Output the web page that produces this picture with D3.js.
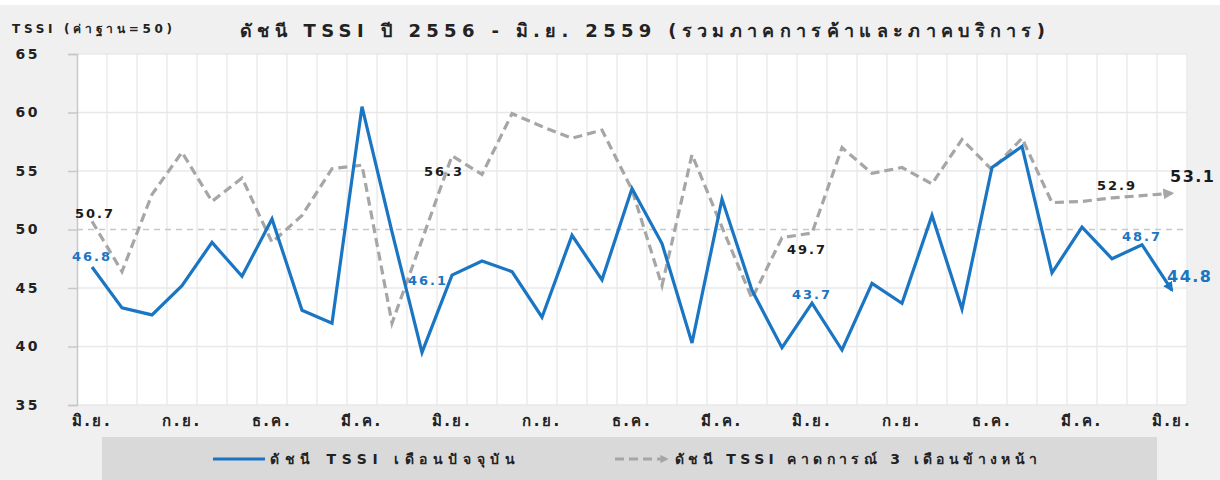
<!DOCTYPE html>
<html>
<head>
<meta charset="utf-8">
<script src="https://cdn.jsdelivr.net/npm/d3@7"></script>
<style>
  body { margin: 0; background: #fff; }
  text { font-family: 'DejaVu Sans', 'Noto Sans', sans-serif; }
</style>
</head>
<body>
<div id="chart"></div>
<script>
const months = [
  'มิ.ย. 2556', 'ก.ค. 2556', 'ส.ค. 2556', 'ก.ย. 2556', 'ต.ค. 2556', 'พ.ย. 2556', 'ธ.ค. 2556',
  'ม.ค. 2557', 'ก.พ. 2557', 'มี.ค. 2557', 'เม.ย. 2557', 'พ.ค. 2557', 'มิ.ย. 2557', 'ก.ค. 2557',
  'ส.ค. 2557', 'ก.ย. 2557', 'ต.ค. 2557', 'พ.ย. 2557', 'ธ.ค. 2557',
  'ม.ค. 2558', 'ก.พ. 2558', 'มี.ค. 2558', 'เม.ย. 2558', 'พ.ค. 2558', 'มิ.ย. 2558', 'ก.ค. 2558',
  'ส.ค. 2558', 'ก.ย. 2558', 'ต.ค. 2558', 'พ.ย. 2558', 'ธ.ค. 2558',
  'ม.ค. 2559', 'ก.พ. 2559', 'มี.ค. 2559', 'เม.ย. 2559', 'พ.ค. 2559', 'มิ.ย. 2559'
]

// ดัชนี TSSI เดือนปัจจุบัน
const current = [46.8, 43.3, 42.7, 45.2, 48.9, 46.0, 50.9, 43.1, 42.0, 60.5, 49.8, 39.5,
  46.1, 47.3, 46.4, 42.5, 49.5, 45.7, 53.5, 48.8, 40.3, 52.6, 44.8, 39.9,
  43.7, 39.7, 45.4, 43.7, 51.2, 43.2, 55.3, 57.1, 46.3, 50.2, 47.5, 48.7, 44.8]

// ดัชนี TSSI คาดการณ์ 3 เดือนข้างหน้า
const forecast = [50.7, 46.4, 53.0, 56.6, 52.4, 54.4, 48.9, 51.2, 55.2, 55.5, 42.0, 49.1,
  56.3, 54.7, 59.9, 58.8, 57.8, 58.5, 53.4, 45.2, 56.4, 50.2, 44.1, 49.3,
  49.7, 57.0, 54.8, 55.3, 53.9, 57.7, 55.1, 57.8, 52.3, 52.4, 52.7, 52.9, 53.1]

const yTicks = [35, 40, 45, 50, 55, 60, 65]
const labelIdx = [0, 12, 24, 35, 36]

const title = 'ดัชนี TSSI ปี 2556 - มิ.ย. 2559 (รวมภาคการค้าและภาคบริการ)'
const yTitle = 'TSSI (ค่าฐาน=50)'
const seriesNames = ['ดัชนี TSSI เดือนปัจจุบัน', 'ดัชนี TSSI คาดการณ์ 3 เดือนข้างหน้า']

const width = 1220
const height = 480
const blue = '#1a75c2'
const grey = '#a6a6a6'

const svg = d3
  .select('#chart')
  .append('svg')
  .attr('width', width)
  .attr('height', height)

svg
  .append('rect')
  .attr('x', 0)
  .attr('y', 5)
  .attr('width', width)
  .attr('height', height - 5)
  .attr('fill', '#f0f0f0')

const x = d3.scaleBand().domain(months).range([77, 1187])
const y = d3.scaleLinear().domain([35, 65]).range([405, 54])

// plot area
svg
  .append('rect')
  .attr('x', x.range()[0])
  .attr('y', y(65))
  .attr('width', x.range()[1] - x.range()[0])
  .attr('height', y(35) - y(65))
  .attr('fill', '#fff')

// vertical grid, one per month
svg
  .selectAll('.vgrid')
  .data(months)
  .enter()
  .append('line')
  .attr('class', 'vgrid')
  .attr('x1', d => x(d) + x.bandwidth())
  .attr('x2', d => x(d) + x.bandwidth())
  .attr('y1', y(65))
  .attr('y2', y(35))
  .attr('stroke', '#ebebeb')
  .attr('stroke-width', 1.5)

// horizontal grid
svg
  .selectAll('.hgrid')
  .data(yTicks)
  .enter()
  .append('line')
  .attr('class', 'hgrid')
  .attr('x1', x.range()[0])
  .attr('x2', x.range()[1])
  .attr('y1', d => y(d))
  .attr('y2', d => y(d))
  .attr('stroke', d => (d === 50 ? '#c8c8c8' : '#e8e8e8'))
  .attr('stroke-width', 1.5)
  .attr('stroke-dasharray', d => (d === 50 ? '6,5' : null))

// y axis
const yAxis = svg
  .append('g')
  .attr('transform', `translate(${x.range()[0]},0)`)
  .call(d3.axisLeft(y).tickValues(yTicks).tickSize(9).tickPadding(28))
yAxis.select('.domain').attr('stroke', '#c8c8c8').attr('stroke-width', 1.5)
yAxis.selectAll('.tick line').attr('stroke', '#c8c8c8').attr('stroke-width', 1.5)
yAxis
  .selectAll('.tick text')
  .attr('font-size', 14)
  .attr('font-weight', 'bold')
  .attr('fill', '#222')
  .attr('letter-spacing', 2.5)

// x axis labels every 3 months
const xAxis = svg
  .append('g')
  .attr('transform', `translate(0,${y(35)})`)
  .call(
    d3
      .axisBottom(x)
      .tickValues(months.filter((d, i) => i % 3 === 0))
      .tickSize(0)
      .tickPadding(10)
      .tickFormat(d => d.split(' ')[0])
  )
xAxis.select('.domain').remove()
xAxis
  .selectAll('.tick text')
  .attr('font-size', 15)
  .attr('font-weight', 'bold')
  .attr('fill', '#222')
  .attr('letter-spacing', 2.5)

// arrow heads
const defs = svg.append('defs')
defs
  .append('marker')
  .attr('id', 'arrow-blue')
  .attr('viewBox', '0 0 10 10')
  .attr('refX', 8)
  .attr('refY', 5)
  .attr('markerWidth', 3.2)
  .attr('markerHeight', 3.2)
  .attr('orient', 'auto')
  .append('path')
  .attr('d', 'M0,0 L10,5 L0,10 Z')
  .attr('fill', blue)
defs
  .append('marker')
  .attr('id', 'arrow-grey')
  .attr('viewBox', '0 0 10 10')
  .attr('refX', 8)
  .attr('refY', 5)
  .attr('markerWidth', 3.4)
  .attr('markerHeight', 3.4)
  .attr('orient', 'auto')
  .append('path')
  .attr('d', 'M0,0 L10,5 L0,10 Z')
  .attr('fill', grey)
defs
  .append('marker')
  .attr('id', 'arrow-grey-small')
  .attr('viewBox', '0 0 10 10')
  .attr('refX', 8)
  .attr('refY', 5)
  .attr('markerWidth', 2.6)
  .attr('markerHeight', 2.6)
  .attr('orient', 'auto')
  .append('path')
  .attr('d', 'M0,0 L10,5 L0,10 Z')
  .attr('fill', grey)

const cx = i => x(months[i]) + x.bandwidth() / 2

const line = d3
  .line()
  .x((d, i) => cx(i))
  .y(d => y(d))

svg
  .append('path')
  .datum(forecast)
  .attr('d', line)
  .attr('fill', 'none')
  .attr('stroke', grey)
  .attr('stroke-width', 3.2)
  .attr('stroke-dasharray', '9,5')
  .attr('marker-end', 'url(#arrow-grey)')

svg
  .append('path')
  .datum(current)
  .attr('d', line)
  .attr('fill', 'none')
  .attr('stroke', blue)
  .attr('stroke-width', 3.2)
  .attr('stroke-linejoin', 'miter')
  .attr('marker-end', 'url(#arrow-blue)')

// value labels
const fmt = d3.format('.1f')
const forecastPos = [[3, -3, 'middle'], [-8, 20, 'middle'], [-5, 21, 'middle'], [-25, -6, 'middle'], [-2, -11, 'start']]
const currentPos = [[0, -6, 'middle'], [-4, 10, 'end'], [0, -4, 'middle'], [0, -4, 'middle'], [-5, -8, 'start']]

svg
  .selectAll('.flabel')
  .data(labelIdx)
  .enter()
  .append('text')
  .attr('class', 'flabel')
  .attr('x', (d, k) => cx(d) + forecastPos[k][0])
  .attr('y', (d, k) => y(forecast[d]) + forecastPos[k][1])
  .attr('text-anchor', (d, k) => forecastPos[k][2])
  .attr('font-size', (d, k) => (k === 4 ? 16 : 13))
  .attr('font-weight', 'bold')
  .attr('letter-spacing', (d, k) => (k === 4 ? 1.5 : 2))
  .attr('fill', '#1a1a1a')
  .text(d => fmt(forecast[d]))

svg
  .selectAll('.clabel')
  .data(labelIdx)
  .enter()
  .append('text')
  .attr('class', 'clabel')
  .attr('x', (d, k) => cx(d) + currentPos[k][0])
  .attr('y', (d, k) => y(current[d]) + currentPos[k][1])
  .attr('text-anchor', (d, k) => currentPos[k][2])
  .attr('font-size', (d, k) => (k === 4 ? 16 : 13))
  .attr('font-weight', 'bold')
  .attr('letter-spacing', (d, k) => (k === 4 ? 1.5 : 2))
  .attr('fill', blue)
  .text(d => fmt(current[d]))

// titles
svg
  .append('text')
  .attr('x', 12)
  .attr('y', 33)
  .attr('font-size', 12)
  .attr('font-weight', 'bold')
  .attr('fill', '#222')
  .attr('textLength', 160)
  .attr('lengthAdjust', 'spacing')
  .text(yTitle)

svg
  .append('text')
  .attr('x', 240)
  .attr('y', 37)
  .attr('font-size', 18)
  .attr('font-weight', 'bold')
  .attr('fill', '#222')
  .attr('textLength', 805)
  .attr('lengthAdjust', 'spacing')
  .text(title)

// legend
svg
  .append('rect')
  .attr('x', 102)
  .attr('y', 437)
  .attr('width', 1055)
  .attr('height', 43)
  .attr('fill', '#d9d9d9')

const legend = svg.append('g').attr('transform', 'translate(0,459)')
legend
  .append('line')
  .attr('x1', 213)
  .attr('x2', 265)
  .attr('stroke', blue)
  .attr('stroke-width', 3.2)
legend
  .append('line')
  .attr('x1', 615)
  .attr('x2', 667)
  .attr('stroke', grey)
  .attr('stroke-width', 3.2)
  .attr('stroke-dasharray', '9,5')
  .attr('marker-end', 'url(#arrow-grey-small)')

const legendX = [[270, 245], [675, 362]]
legend
  .selectAll('.ltext')
  .data(seriesNames)
  .enter()
  .append('text')
  .attr('x', (d, i) => legendX[i][0])
  .attr('y', 5)
  .attr('font-size', 14)
  .attr('font-weight', 'bold')
  .attr('fill', '#222')
  .attr('textLength', (d, i) => legendX[i][1])
  .attr('lengthAdjust', 'spacing')
  .text(d => d)
</script>
</body>
</html>
